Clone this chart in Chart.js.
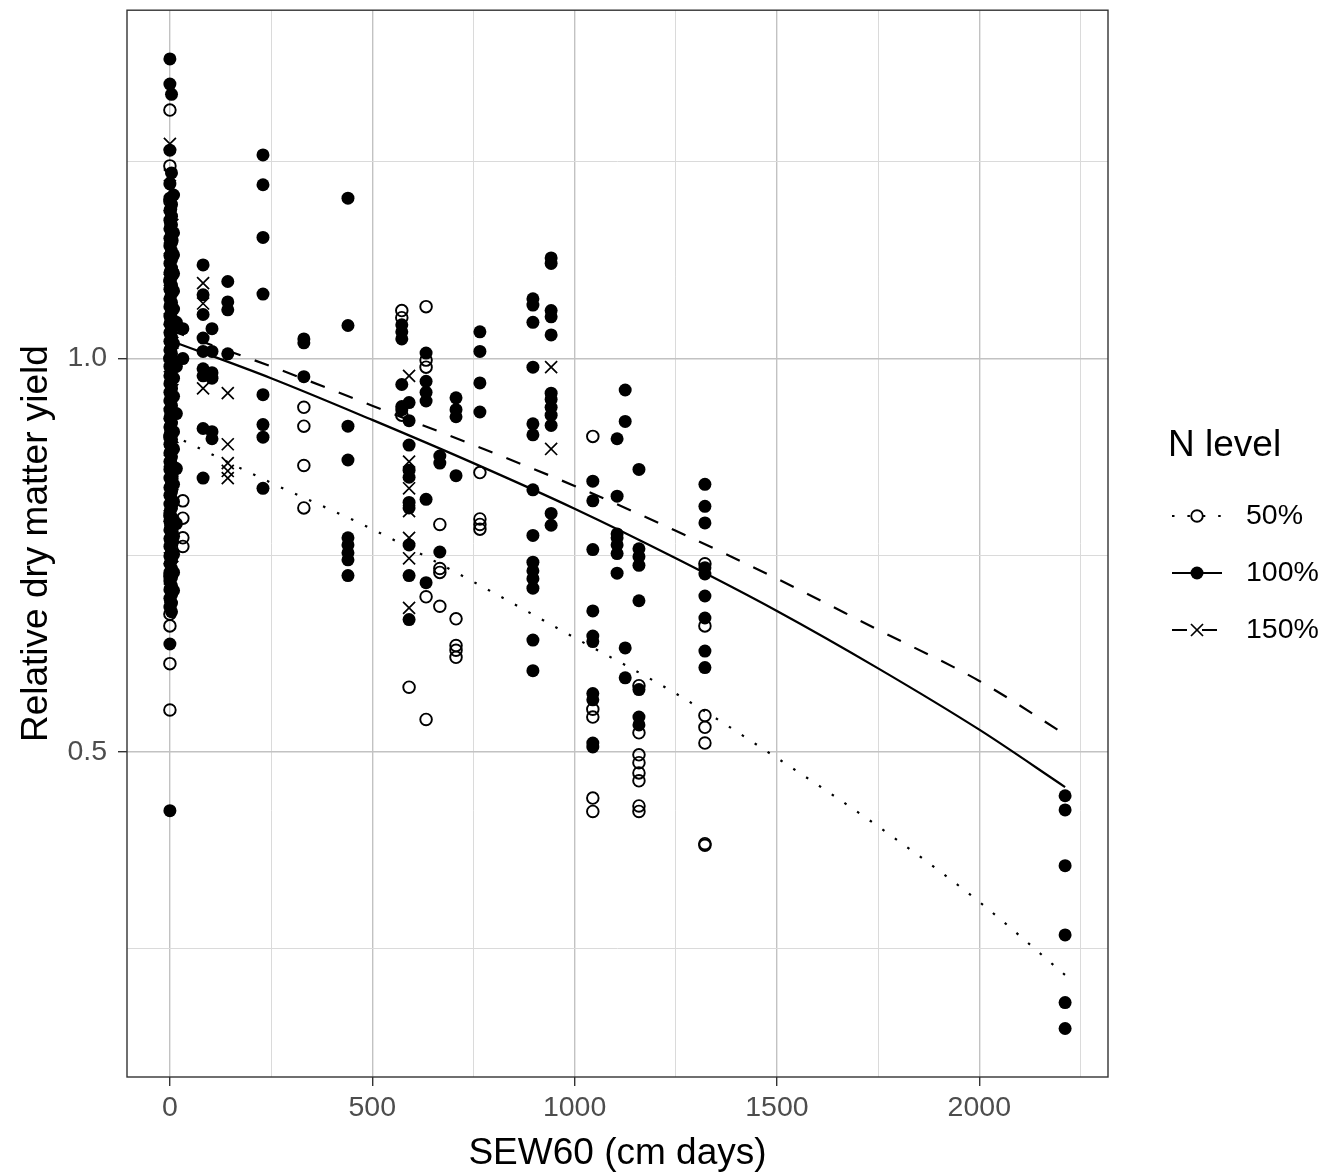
<!DOCTYPE html>
<html>
<head>
<meta charset="utf-8">
<title>Relative dry matter yield vs SEW60</title>
<script src="https://cdn.jsdelivr.net/npm/chart.js@4.4.1/dist/chart.umd.min.js"></script>
<style>
  html, body { margin: 0; padding: 0; background: #fff; }
  #wrap { width: 1327px; height: 1176px; position: relative; }
</style>
</head>
<body>
<div id="wrap"><canvas id="myChart"></canvas></div>
<script>
/*******************************
* DATA
********************************/

// N levels, in legend order
var levels = ['50%', '100%', '150%'];

// SEW60 (cm days) of each column of points, with the yields measured there
var sew50 = [0, 5, 32, 331, 573, 591, 633, 667, 707, 766, 1045, 1159, 1322];
var yield50 = [
  [1.316, 1.245, 1.200, 1.100, 1.000, 0.900, 0.800, 0.723, 0.675, 0.660, 0.612, 0.553],
  [1.150, 1.050, 0.950, 0.850, 0.780, 0.703],
  [0.819, 0.797, 0.772, 0.761],
  [0.938, 0.914, 0.864, 0.810],
  [1.061, 1.052, 0.928],
  [0.582],
  [1.066, 0.998, 0.989, 0.697, 0.541],
  [0.789, 0.733, 0.728, 0.685],
  [0.669, 0.635, 0.629, 0.620],
  [0.855, 0.796, 0.789, 0.783],
  [0.901, 0.554, 0.544, 0.441, 0.424],
  [0.584, 0.524, 0.496, 0.486, 0.473, 0.463, 0.431, 0.424],
  [0.739, 0.660, 0.546, 0.531, 0.511, 0.383, 0.381]
];

var sew100 = [0, 2, 4, 9, 16, 32, 82, 104, 143, 230, 331, 440, 573, 591, 633, 667, 707, 766, 897, 942, 1045, 1105, 1125, 1159, 1322, 2212];
var yield100 = [
  [1.381, 1.349, 1.265, 1.222, 1.204, 1.188, 1.176, 1.165, 1.153, 1.143, 1.131, 1.121, 1.109, 1.098, 1.088, 1.076, 1.066, 1.054, 1.044, 1.033, 1.022, 1.011, 1.001, 0.990, 0.978, 0.968, 0.957, 0.946, 0.935, 0.924, 0.913, 0.903, 0.891, 0.880, 0.869, 0.859, 0.848, 0.836, 0.826, 0.815, 0.804, 0.793, 0.782, 0.771, 0.761, 0.749, 0.739, 0.728, 0.717, 0.706, 0.695, 0.684, 0.637, 0.425],
  [1.190, 1.171, 1.150, 1.129, 1.111, 1.090, 1.069, 1.051, 1.030, 1.010, 0.989, 0.970, 0.949, 0.928, 0.909, 0.889, 0.868, 0.849, 0.828, 0.809, 0.788, 0.768, 0.747, 0.727, 0.708, 0.690],
  [1.336, 1.236, 1.196, 1.181, 1.170, 1.159, 1.148, 1.137, 1.126, 1.115, 1.104, 1.093, 1.082, 1.071, 1.060, 1.049, 1.038, 1.027, 1.016, 1.006, 0.995, 0.984, 0.973, 0.962, 0.951, 0.940, 0.930, 0.918, 0.908, 0.897, 0.886, 0.875, 0.864, 0.853, 0.842, 0.831, 0.820, 0.810, 0.798, 0.788, 0.777, 0.766, 0.755, 0.744, 0.733, 0.722, 0.711, 0.700, 0.689, 0.678],
  [1.208, 1.160, 1.132, 1.108, 1.086, 1.063, 1.041, 1.019, 0.997, 0.975, 0.952, 0.929, 0.907, 0.885, 0.862, 0.840, 0.818, 0.795, 0.774, 0.751, 0.728, 0.705],
  [1.046, 0.990, 0.930, 0.860, 0.790],
  [1.038, 1.000],
  [1.119, 1.081, 1.056, 1.026, 1.009, 0.987, 0.978, 0.911, 0.848],
  [1.038, 1.009, 0.982, 0.975, 0.907, 0.898],
  [1.098, 1.072, 1.062, 1.006],
  [1.259, 1.221, 1.154, 1.082, 0.954, 0.916, 0.900, 0.835],
  [1.025, 1.020, 0.977],
  [1.204, 1.042, 0.914, 0.871, 0.772, 0.763, 0.753, 0.744, 0.724],
  [1.043, 1.034, 1.025, 0.967, 0.939, 0.935],
  [0.944, 0.921, 0.890, 0.858, 0.849, 0.817, 0.810, 0.763, 0.724, 0.668],
  [1.007, 0.971, 0.957, 0.946, 0.821, 0.715],
  [0.876, 0.867, 0.754],
  [0.950, 0.935, 0.926, 0.851],
  [1.034, 1.009, 0.969, 0.932],
  [1.076, 1.068, 1.046, 0.989, 0.917, 0.903, 0.833, 0.775, 0.741, 0.730, 0.720, 0.708, 0.642, 0.603],
  [1.128, 1.121, 1.061, 1.053, 1.030, 0.956, 0.948, 0.938, 0.928, 0.915, 0.803, 0.788],
  [0.844, 0.819, 0.757, 0.679, 0.647, 0.640, 0.574, 0.566, 0.511, 0.506],
  [0.898, 0.825, 0.777, 0.772, 0.763, 0.752, 0.727],
  [0.960, 0.920, 0.632, 0.594],
  [0.859, 0.758, 0.748, 0.737, 0.692, 0.579, 0.544, 0.534],
  [0.840, 0.812, 0.791, 0.734, 0.726, 0.698, 0.670, 0.628, 0.607],
  [0.444, 0.426, 0.355, 0.267, 0.181, 0.148]
];

var sew150 = [0, 6, 82, 143, 591, 942];
var yield150 = [
  [1.273, 1.233, 1.195, 1.140, 1.100, 1.050, 0.990, 0.930, 0.870, 0.800, 0.746, 0.720],
  [1.170, 1.120, 1.020, 0.960, 0.900, 0.840, 0.760, 0.735],
  [1.096, 1.070, 0.962],
  [0.956, 0.891, 0.867, 0.857, 0.848],
  [0.978, 0.869, 0.835, 0.806, 0.772, 0.746, 0.683],
  [0.989, 0.885]
];

// fitted curves, one value per SEW60 step
var fitSew = [0, 250, 500, 750, 1000, 1250, 1500, 1750, 2000, 2212];
var fit50  = [0.904, 0.842, 0.783, 0.716, 0.645, 0.574, 0.492, 0.405, 0.309, 0.216];
var fit100 = [1.023, 0.975, 0.922, 0.867, 0.809, 0.746, 0.679, 0.606, 0.528, 0.455];
var fit150 = [1.036, 0.990, 0.940, 0.890, 0.838, 0.781, 0.720, 0.655, 0.590, 0.522];

// axis breaks (grid lines) and the ones that get a label
var xBreaks = [0, 250, 500, 750, 1000, 1250, 1500, 1750, 2000, 2250];
var xTicks  = [0, 500, 1000, 1500, 2000];
var yBreaks = [0.25, 0.5, 0.75, 1.0, 1.25];
var yTicks  = [0.5, 1.0];
var yTickLabels = ['0.5', '1.0'];

(function(){
  /*******************************
  * LOAD
  ********************************/

  window.addEventListener('load', function() {
    app.init();
  })

  var FONT = "'Liberation Sans', Arial, Helvetica, sans-serif";
  var MAJOR = '#c2c2c2';
  var MINOR = '#dadada';

  // line dash + point look for each N level
  var lineDash = [[2.5, 12.9], [], [15, 15]];
  var points = [
    { pointStyle: 'circle', pointRadius: 5.8, pointBackgroundColor: 'rgba(0,0,0,0)', pointBorderColor: '#000', pointBorderWidth: 1.9 },
    { pointStyle: 'circle', pointRadius: 6.5, pointBackgroundColor: '#000', pointBorderColor: '#000', pointBorderWidth: 0 },
    { pointStyle: 'crossRot', pointRadius: 8.5, pointBackgroundColor: '#000', pointBorderColor: '#000', pointBorderWidth: 1.7 }
  ];

  var app = {

    /*******************************
    * Initialize
    ********************************/
    init: function() {
      app.chart();
    },

    // flatten column lists into {x, y} points
    toPoints: function(xs, cols) {
      var pts = [];
      xs.forEach(function(x, i) {
        cols[i].forEach(function(y) { pts.push({ x: x, y: y }); });
      });
      return pts;
    },

    toLine: function(xs, ys) {
      return xs.map(function(x, i) { return { x: x, y: ys[i] }; });
    },

    /*******************************
    * CHART
    ********************************/
    chart: function() {
      var ctx = document.getElementById('myChart');

      var scatterSets = [
        app.toPoints(sew50, yield50),
        app.toPoints(sew100, yield100),
        app.toPoints(sew150, yield150)
      ].map(function(pts, i) {
        return Object.assign({ label: levels[i], data: pts, showLine: false, order: 2 }, points[i]);
      });

      var fitSets = [fit50, fit100, fit150].map(function(ys, i) {
        return {
          label: levels[i] + ' fit',
          data: app.toLine(fitSew, ys),
          showLine: true,
          pointRadius: 0,
          borderColor: '#000',
          borderWidth: 2.2,
          borderDash: lineDash[i],
          borderCapStyle: 'butt',
          fill: false,
          tension: 0.4,
          cubicInterpolationMode: 'monotone',
          order: 1
        };
      });

      // panel frame drawn over the grid, like a ggplot panel border
      var panelBorder = {
        id: 'panelBorder',
        afterDraw: function(chart) {
          var a = chart.chartArea, c = chart.ctx;
          c.save();
          c.strokeStyle = '#333333';
          c.lineWidth = 1.4;
          c.strokeRect(a.left, a.top, a.right - a.left, a.bottom - a.top);
          c.restore();
        }
      };

      // legend: key line with its point, then the label
      var levelLegend = {
        id: 'levelLegend',
        afterDraw: function(chart) {
          var c = chart.ctx;
          var keyX = 1197, keyHalf = 25, textX = 1246;
          var keyY = [516, 573, 630];
          c.save();
          c.fillStyle = '#000';
          c.font = '37px ' + FONT;
          c.textBaseline = 'alphabetic';
          c.fillText('N level', 1168, 456);

          levels.forEach(function(lab, i) {
            var y = keyY[i];
            c.strokeStyle = '#000';
            c.lineWidth = 2.2;
            c.lineCap = 'butt';
            c.setLineDash(lineDash[i]);
            c.beginPath();
            c.moveTo(keyX - keyHalf, y);
            c.lineTo(keyX + keyHalf, y);
            c.stroke();
            c.setLineDash([]);

            var p = points[i];
            c.fillStyle = p.pointBackgroundColor;
            c.strokeStyle = p.pointBorderColor;
            c.lineWidth = p.pointBorderWidth;
            Chart.helpers.drawPoint(c, {
              pointStyle: p.pointStyle, radius: p.pointRadius,
              rotation: 0, borderWidth: p.pointBorderWidth
            }, keyX, y);

            c.fillStyle = '#000';
            c.font = '28.5px ' + FONT;
            c.textBaseline = 'middle';
            c.fillText(lab, textX, y);
          });
          c.restore();
        }
      };

      var myChart = new Chart(ctx, {
        type: 'scatter',
        data: { datasets: fitSets.concat(scatterSets) },
        plugins: [panelBorder, levelLegend],
        options: {
          responsive: true,
          maintainAspectRatio: false,
          animation: false,
          events: [],
          layout: { padding: { left: 0, right: 219, top: 8, bottom: 0 } },
          plugins: {
            legend: { display: false },
            tooltip: { enabled: false }
          },
          scales: {
            x: {
              type: 'linear',
              min: -106,
              max: 2318,
              afterBuildTicks: function(scale) {
                scale.ticks = xBreaks.map(function(v) { return { value: v }; });
              },
              afterFit: function(scale) {
                scale.height = 99;
                scale.paddingLeft = 0;
                scale.paddingRight = 0;
              },
              border: { display: false },
              grid: {
                color: function(c) { return xTicks.indexOf(c.tick.value) >= 0 ? MAJOR : MINOR; },
                lineWidth: function(c) { return xTicks.indexOf(c.tick.value) >= 0 ? 1.4 : 1; },
                tickColor: function(c) { return xTicks.indexOf(c.tick.value) >= 0 ? '#333333' : 'rgba(0,0,0,0)'; },
                tickLength: 9,
                tickWidth: 1.4
              },
              ticks: {
                autoSkip: false,
                maxRotation: 0,
                padding: 5,
                color: '#4d4d4d',
                font: { family: FONT, size: 28.5 },
                callback: function(v) { return xTicks.indexOf(v) >= 0 ? String(v) : ''; }
              },
              title: {
                display: true,
                text: 'SEW60 (cm days)',
                color: '#000',
                font: { family: FONT, size: 37 },
                padding: { top: 0, bottom: 0 }
              }
            },
            y: {
              type: 'linear',
              min: 0.0863,
              max: 1.443,
              afterBuildTicks: function(scale) {
                scale.ticks = yBreaks.map(function(v) { return { value: v }; });
              },
              afterFit: function(scale) {
                scale.width = 127;
                scale.paddingTop = 0;
                scale.paddingBottom = 0;
              },
              border: { display: false },
              grid: {
                color: function(c) { return yTicks.indexOf(c.tick.value) >= 0 ? MAJOR : MINOR; },
                lineWidth: function(c) { return yTicks.indexOf(c.tick.value) >= 0 ? 1.4 : 1; },
                tickColor: function(c) { return yTicks.indexOf(c.tick.value) >= 0 ? '#333333' : 'rgba(0,0,0,0)'; },
                tickLength: 9,
                tickWidth: 1.4
              },
              ticks: {
                autoSkip: false,
                padding: 11,
                color: '#4d4d4d',
                font: { family: FONT, size: 28.5 },
                callback: function(v) {
                  var k = yTicks.indexOf(v);
                  return k >= 0 ? yTickLabels[k] : '';
                }
              },
              title: {
                display: true,
                text: 'Relative dry matter yield',
                color: '#000',
                font: { family: FONT, size: 37 },
                padding: { top: 15, bottom: 0 }
              }
            }
          }
        }
      });
    }

  }

  /*******************************
  * END
  ********************************/
})()
</script>
</body>
</html>
